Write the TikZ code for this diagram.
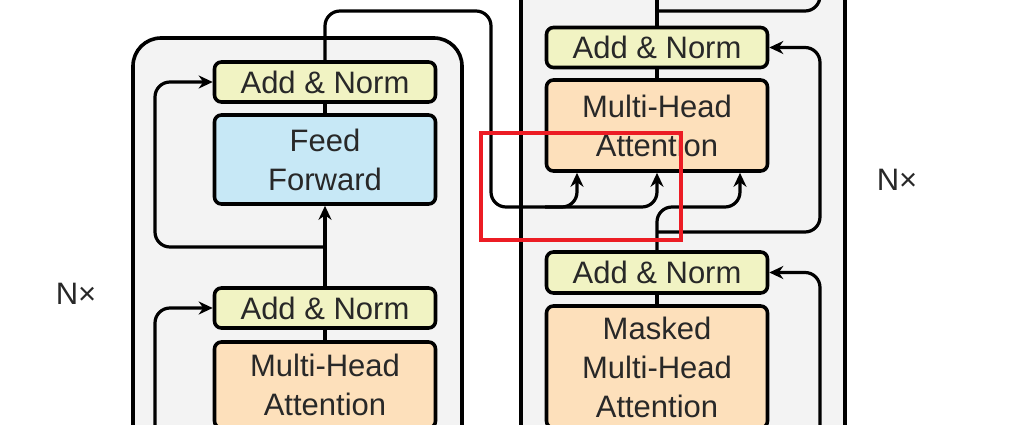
\documentclass[tikz,border=0pt]{standalone}
\usepackage{fontspec}
\setmainfont{Liberation Sans}
\usetikzlibrary{arrows.meta}

\definecolor{normfill}{RGB}{241,243,195}
\definecolor{ffwdfill}{RGB}{199,232,246}
\definecolor{attnfill}{RGB}{253,224,187}
\definecolor{layerfill}{RGB}{243,243,243}
\definecolor{labelgray}{RGB}{40,40,40}
\definecolor{markred}{RGB}{236,28,36}

\begin{document}
\begin{tikzpicture}[x=1pt,y=-1pt,
  block/.style={draw=black,line width=3.6pt,rounded corners=7pt,inner sep=0pt,align=center,
    text=labelgray,font=\fontsize{31}{39}\selectfont,minimum width=221pt},
  addnorm/.style={block,fill=normfill,minimum height=40pt},
  ffwd/.style={block,fill=ffwdfill,minimum height=89pt},
  attn/.style={block,fill=attnfill},
  layer/.style={draw=black,line width=3.6pt,rounded corners=28pt,fill=layerfill,inner sep=0pt},
  repeat/.style={text=labelgray,font=\fontsize{31}{36}\selectfont,inner sep=0pt},
  flow/.style={draw=black,line width=3.2pt,rounded corners=15pt},
  arrowed/.style={flow,-{Stealth[length=14pt,width=13pt,inset=4.5pt]}}]
\clip (0,0) rectangle (1018,425);
\fill[white] (0,0) rectangle (1018,425);

% encoder and decoder layers
\node[layer,minimum width=329pt,minimum height=422pt] (encLayer) at (297.5,249) {};
\node[layer,minimum width=324pt,minimum height=500pt] (decLayer) at (683,210) {};

% encoder
\node[addnorm] (encNormB) at (325,308) {Add \& Norm};
\node[attn,minimum height=86pt] (encAttn) at (325,385) {Multi-Head\\Attention};
\node[ffwd] (encFwd) at (325,159.5) {Feed\\Forward};
\node[addnorm] (encNormA) at (325,82) {Add \& Norm};

% decoder
\node[addnorm] (decNormA) at (657,47.5) {Add \& Norm};
\node[attn,minimum height=91pt] (decAttn) at (657,125.5) {Multi-Head\\Attention};
\node[addnorm,minimum height=41pt] (decNormB) at (657,272.5) {Add \& Norm};
\node[attn,minimum height=122pt] (decMask) at (657,367) {Masked\\Multi-Head\\Attention};

\node[repeat] (encRepeat) at (76,294) {N×};
\node[repeat] (decRepeat) at (897,180) {N×};

% encoder flow
\coordinate (encSplit) at (325,247);
\draw[flow] (encAttn) -- (encNormB);
\draw[arrowed] (encNormB) -- (encFwd);
\draw[flow] (encFwd) -- (encNormA);
\draw[arrowed] (encSplit) -- (155,247) -- (155,82) -- (encNormA.west);
\draw[arrowed] (155,440) -- (155,308) -- (encNormB.west);

% encoder output into decoder
\coordinate (encTurn) at (491,207);
\draw[arrowed] (encNormA.north) -- (325,11) -- (491,11) -- (encTurn) -- (657,207) -- (decAttn.south);
\draw[arrowed] (545,207) -- (577,207) -- (decAttn.south -| 577,0);

% decoder flow
\coordinate (decSplit) at (657,232);
\coordinate (decTop) at (657,11);
\draw[flow] (decMask) -- (decNormB);
\draw[arrowed] (decNormB.north) -- (657,207) -- (740,207) -- (decAttn.south -| 740,0);
\draw[arrowed] (decSplit) -- (820,232) -- (820,47.5) -- (decNormA.east);
\draw[arrowed] (820,440) -- (820,272.5) -- (decNormB.east);
\draw[flow] (decAttn) -- (decNormA);
\draw[flow] (decNormA.north) -- (657,-10);
\draw[flow] (decTop) -- (820,11) -- (820,-20);

% highlight
\draw[markred,line width=4pt] (481,133) rectangle (681,240);
\end{tikzpicture}
\end{document}
